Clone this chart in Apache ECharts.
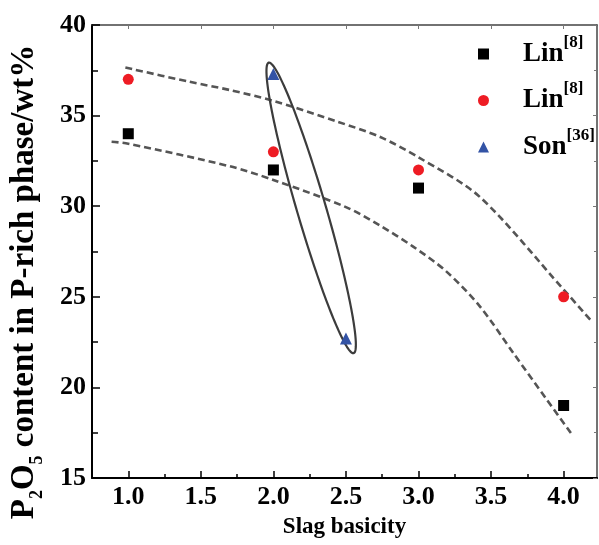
<!DOCTYPE html>
<html>
<head>
<meta charset="utf-8">
<script src="https://cdn.jsdelivr.net/npm/echarts@6/dist/echarts.min.js"></script>
<style>html,body{margin:0;padding:0;background:#fff}#c{width:599px;height:545px}</style>
</head>
<body>
<div id="c"></div>
<script>
// ---- data ----
const linAX = [1.0, 2.0, 3.0, 4.0];
const linAY = [34, 32, 31, 19];
const linBX = [1.0, 2.0, 3.0, 4.0];
const linBY = [37, 33, 32, 25];
const sonX = [2.0, 2.5];
const sonY = [37.3, 22.7];
const upperFitX = [0.98, 1.42, 1.7, 2.0, 2.44, 2.73, 3.0, 3.42, 4.0, 4.2];
const upperFitY = [37.65, 36.87, 36.41, 35.81, 34.67, 33.84, 32.7, 30.53, 25.4, 23.58];
const lowerFitX = [0.885, 1.0, 1.7, 2.0, 2.5, 2.73, 2.963, 3.193, 3.424, 3.654, 3.885, 4.05];
const lowerFitY = [33.56, 33.45, 32.2, 31.45, 29.95, 28.95, 27.77, 26.39, 24.46, 21.89, 19.31, 17.48];
const xMajorTicks = [1.0, 1.5, 2.0, 2.5, 3.0, 3.5, 4.0];
const xMinorTicks = [1.25, 1.75, 2.25, 2.75, 3.25, 3.75];
const ellipseEndA = [1.9675, 37.92];
const ellipseEndB = [2.553, 21.89];
const legendNames = ['Lin', 'Lin', 'Son'];
const legendRefs = ['[8]', '[8]', '[36]'];

const pair = (xs, ys) => xs.map((x, i) => [x, ys[i]]);
const FONT = '"Liberation Serif", "Times New Roman", serif';

const chart = echarts.init(document.getElementById('c'), null, {renderer: 'canvas'});
const xBase = {type: 'value', min: 0.75, max: 4.23, splitLine: {show: false}};
const yBase = {type: 'value', min: 15, max: 40, interval: 5, splitLine: {show: false}};
const seriesKeys = ['s0', 's1', 's2'];

chart.setOption({
  animation: false,
  grid: {left: 92, right: 2, top: 25, bottom: 67, outerBoundsMode: 'none', containLabel: false},
  xAxis: [
    Object.assign({}, xBase, {
      position: 'bottom',
      axisLine: {lineStyle: {color: '#000', width: 2}},
      axisTick: {inside: true, length: 7, customValues: xMajorTicks, lineStyle: {color: '#000', width: 1.5}},
      axisLabel: {customValues: xMajorTicks, formatter: v => v.toFixed(1), color: '#000',
        fontFamily: FONT, fontWeight: 'bold', fontSize: 26, margin: 6},
      name: 'Slag basicity', nameLocation: 'middle', nameGap: 38,
      nameTextStyle: {fontFamily: FONT, fontWeight: 'bold', fontSize: 23, color: '#000'}
    }),
    Object.assign({}, xBase, {
      position: 'bottom', axisLine: {show: false}, axisLabel: {show: false},
      axisTick: {inside: true, length: 4, customValues: xMinorTicks, lineStyle: {color: '#000', width: 1.5}}
    }),
    Object.assign({}, xBase, {
      position: 'top',
      axisLine: {lineStyle: {color: '#444', width: 1.5}},
      axisTick: {inside: true, length: 4, customValues: xMajorTicks, lineStyle: {color: '#777', width: 1}},
      axisLabel: {show: false}
    })
  ],
  yAxis: [
    Object.assign({}, yBase, {
      position: 'left',
      axisLine: {lineStyle: {color: '#000', width: 2}},
      axisTick: {inside: true, length: 8, lineStyle: {color: '#000', width: 1.5}},
      minorTick: {show: true, splitNumber: 2, length: 6, lineStyle: {color: '#000', width: 1.5}},
      axisLabel: {color: '#000', fontFamily: FONT, fontWeight: 'bold', fontSize: 26, margin: 6}
    }),
    Object.assign({}, yBase, {
      position: 'right',
      axisLine: {lineStyle: {color: '#444', width: 1.5}},
      axisTick: {inside: true, length: 4, lineStyle: {color: '#777', width: 1}},
      minorTick: {show: true, splitNumber: 2, length: 3, lineStyle: {color: '#777', width: 1}},
      axisLabel: {show: false}
    })
  ],
  legend: {
    data: seriesKeys,
    orient: 'vertical',
    left: 473,
    top: 29,
    itemGap: 13,
    itemWidth: 11,
    itemHeight: 11,
    formatter: name => {
      const i = seriesKeys.indexOf(name);
      return '{g|}{m|' + legendNames[i] + '}{s|' + legendRefs[i] + '}';
    },
    textStyle: {
      rich: {
        g: {width: 29, lineHeight: 40},
        m: {fontFamily: FONT, fontWeight: 'bold', fontSize: 27, lineHeight: 40, color: '#000'},
        s: {fontFamily: FONT, fontWeight: 'bold', fontSize: 17, lineHeight: 18, verticalAlign: 'top', color: '#000'}
      }
    }
  },
  series: [
    {name: 'upperFit', type: 'line', data: pair(upperFitX, upperFitY), smooth: 0.3, symbol: 'none',
      lineStyle: {color: '#555', width: 2.6, type: [7, 4]}, z: 1},
    {name: 'lowerFit', type: 'line', data: pair(lowerFitX, lowerFitY), smooth: 0.3, symbol: 'none',
      lineStyle: {color: '#555', width: 2.6, type: [7, 4]}, z: 1},
    {name: 's0', type: 'scatter', data: pair(linAX, linAY), symbol: 'rect', symbolSize: 11,
      itemStyle: {color: '#000', opacity: 1}, z: 3},
    {name: 's1', type: 'scatter', data: pair(linBX, linBY), symbol: 'circle', symbolSize: 11,
      itemStyle: {color: '#ee1c24', opacity: 1}, z: 3},
    {name: 's2', type: 'scatter', data: pair(sonX, sonY), symbol: 'triangle', symbolSize: 12,
      itemStyle: {color: '#3353a5', opacity: 1}, z: 3}
  ]
});

// ellipse annotation around the Son[36] points
function drawOverlay() {
  const a = chart.convertToPixel({gridIndex: 0}, ellipseEndA);
  const b = chart.convertToPixel({gridIndex: 0}, ellipseEndB);
  const cx = (a[0] + b[0]) / 2, cy = (a[1] + b[1]) / 2;
  const dx = b[0] - a[0], dy = b[1] - a[1];
  const len = Math.hypot(dx, dy);
  const ux = dx / len, uy = dy / len;
  const vx = -uy, vy = ux;
  const A = len / 2, B = 14.5;
  const pts = [];
  for (let k = 0; k < 180; k++) {
    const t = k / 180 * Math.PI * 2;
    const p = A * Math.cos(t), q = B * Math.sin(t);
    pts.push([cx + ux * p + vx * q, cy + uy * p + vy * q]);
  }
  chart.setOption({
    graphic: [
      {type: 'polygon', shape: {points: pts}, z: 2,
        style: {fill: 'none', stroke: '#3c3c3c', lineWidth: 2.2}},
      {type: 'text', x: 27, y: 282, rotation: Math.PI / 2, z: 5,
        style: {
          text: '{n|P}{s|2}{n|O}{s|5}{n| content in P-rich phase/wt%}',
          align: 'center', verticalAlign: 'middle',
          rich: {
            n: {fontFamily: FONT, fontWeight: 'bold', fontSize: 33, lineHeight: 38, verticalAlign: 'top', fill: '#000'},
            s: {fontFamily: FONT, fontWeight: 'bold', fontSize: 18, lineHeight: 38, verticalAlign: 'bottom', fill: '#000'}
          }
        }}
    ]
  });
}
drawOverlay();
</script>
</body>
</html>
